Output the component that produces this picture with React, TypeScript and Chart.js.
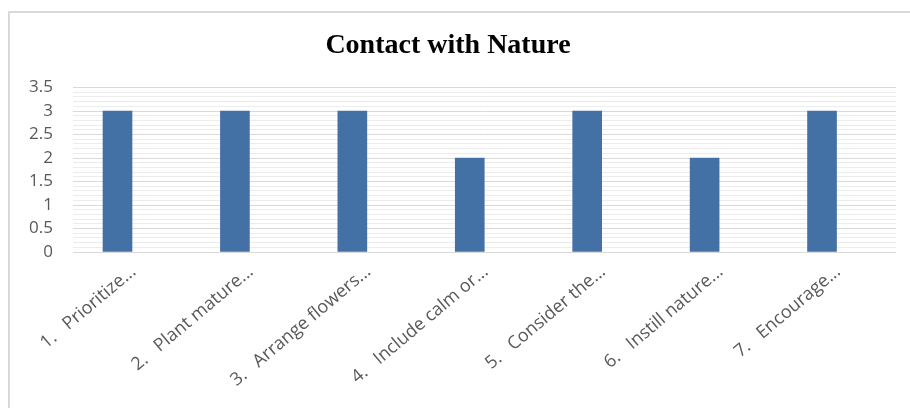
import React, { useEffect, useRef } from "react";
import { Chart, registerables } from "chart.js";

Chart.register(...registerables);

const chartTitle = "Contact with Nature";
const categories = [
  "1.   Prioritize...",
  "2.   Plant mature...",
  "3.   Arrange flowers...",
  "4.   Include calm or...",
  "5.   Consider the...",
  "6.   Instill nature...",
  "7.   Encourage...",
];
const values = [3, 3, 3, 2, 3, 2, 3];
const yMin = 0;
const yMax = 3.5;
const yMinorStep = 0.1;
const yLabelStep = 0.5;
const labelAngle = 40;

export default function App() {
  const ref = useRef<HTMLCanvasElement | null>(null);

  useEffect(() => {
    if (!ref.current) return;
    const chart = new Chart(ref.current, {
      type: "bar",
      data: {
        datasets: [
          {
            data: values.map((v, i) => ({ x: i, y: v })),
            backgroundColor: "#4371a6",
            borderWidth: 0,
            barThickness: 29,
          },
        ],
      },
      options: {
        animation: false,
        responsive: false,
        maintainAspectRatio: false,
        layout: { padding: { left: 0, right: 14, top: 0, bottom: 0 } },
        plugins: {
          legend: { display: false },
          tooltip: { enabled: false },
          title: {
            display: true,
            text: chartTitle,
            color: "#000000",
            font: { family: "'Liberation Serif', 'Times New Roman', serif", size: 28, weight: "bold" },
            padding: { top: 29, bottom: 24.9 },
          },
        },
        scales: {
          x: {
            type: "linear",
            offset: false,
            min: -0.379,
            max: 6.63,
            grid: { display: false },
            border: { display: false },
            afterBuildTicks: (scale: any) => {
              scale.ticks = categories.map((_, i) => ({ value: i }));
            },
            afterCalculateLabelRotation: (scale: any) => {
              scale.labelRotation = labelAngle;
            },
            afterFit: (scale: any) => {
              scale.height = 156;
              scale.paddingLeft = 0;
              scale.paddingRight = 0;
            },
            ticks: {
              autoSkip: false,
              maxRotation: labelAngle,
              minRotation: labelAngle,
              labelOffset: 16,
              padding: 1,
              color: "#595959",
              font: { family: "'Open Sans', 'Noto Sans', sans-serif", size: 18 },
              callback: (v: any) => categories[Math.round(Number(v))] ?? "",
            },
          },
          y: {
            min: yMin,
            max: yMax,
            grid: {
              drawTicks: false,
              color: (ctx: any) => {
                const v = ctx.tick ? ctx.tick.value : 0;
                const k = v / yLabelStep;
                return Math.abs(k - Math.round(k)) < 1e-6 ? "#d9d9d9" : "#ececec";
              },
              lineWidth: 1,
            },
            border: { display: false },
            afterFit: (scale: any) => {
              scale.width = 73;
            },
            ticks: {
              stepSize: yMinorStep,
              autoSkip: false,
              padding: 20,
              color: "#595959",
              font: { family: "'Open Sans', 'Noto Sans', sans-serif", size: 17 },
              callback: (v: any) => {
                const k = Number(v) / yLabelStep;
                if (Math.abs(k - Math.round(k)) > 1e-6) return "";
                return String(Math.round(Number(v) * 10) / 10);
              },
            },
          },
        },
      },
    });
    return () => chart.destroy();
  }, []);

  return (
    <div style={{ position: "fixed", left: 0, top: 0, width: 910, height: 408, background: "#ffffff", overflow: "hidden" }}>
      <div
        style={{
          position: "absolute",
          left: 8,
          top: 11,
          width: 960,
          height: 460,
          borderLeft: "2px solid #d9d9d9",
          borderTop: "2px solid #d9d9d9",
        }}
      />
      <canvas ref={ref} width={910} height={408} style={{ position: "absolute", left: 0, top: 0, width: 910, height: 408 }} />
    </div>
  );
}
